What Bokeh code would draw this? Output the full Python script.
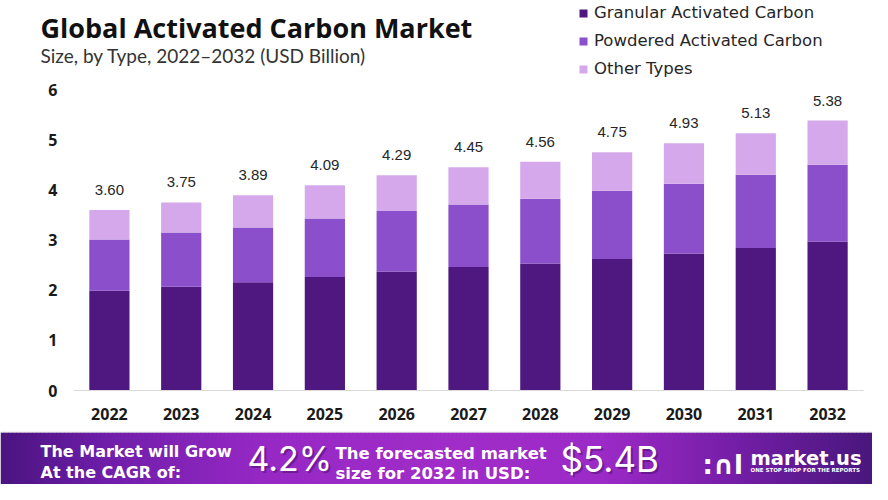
from bokeh.plotting import figure
from bokeh.layouts import column
from bokeh.models import (ColumnDataSource, LabelSet, Label, Legend, LegendItem,
                          FactorRange, Range1d)
from bokeh.embed import file_html
from bokeh.resources import INLINE
from bokeh.core.properties import value

# ---------------- data ----------------
years = ["2022", "2023", "2024", "2025", "2026", "2027", "2028", "2029", "2030", "2031", "2032"]
granular = [1.99, 2.07, 2.16, 2.26, 2.37, 2.46, 2.53, 2.62, 2.73, 2.84, 2.97]
powdered = [1.02, 1.08, 1.09, 1.17, 1.21, 1.25, 1.29, 1.36, 1.39, 1.46, 1.53]
other = [0.59, 0.60, 0.64, 0.66, 0.71, 0.74, 0.74, 0.77, 0.81, 0.83, 0.88]
totals = [3.60, 3.75, 3.89, 4.09, 4.29, 4.45, 4.56, 4.75, 4.93, 5.13, 5.38]
series_names = ["Granular Activated Carbon", "Powdered Activated Carbon", "Other Types"]
y_ticks = [0, 1, 2, 3, 4, 5, 6]
title_text = "Global Activated Carbon Market"
subtitle_text = "Size, by Type, 2022\u20132032 (USD Billion)"
cagr_text = "4.2%"
forecast_text = "$5.4B"

colors = ["#4f1780", "#8b4fcc", "#d4a8eb"]

W = 872
HDR_H = 80
CH_H = 351
BAN_TOP = 431
BAN_H = 53


def blank(height, y0):
    f = figure(width=W, height=height, x_range=Range1d(0, W), y_range=Range1d(y0 + height, y0),
               output_backend="svg", toolbar_location=None,
               min_border_left=0, min_border_right=0, min_border_top=0, min_border_bottom=0,
               x_axis_location=None, y_axis_location=None, outline_line_color=None,
               background_fill_color="white", border_fill_color="white")
    f.grid.visible = False
    return f


def add_label(f, text, x, base, size, color="white", font="DejaVu Sans", style="bold", alpha=1.0):
    # 'base' is the wanted baseline; the label is anchored at its middle
    f.add_layout(Label(x=x, y=base - 0.35 * size, text=text, text_font=font,
                       text_font_size="%.1fpx" % size, text_font_style=style,
                       text_color=color, text_align="left", text_baseline="middle",
                       text_alpha=alpha))


# ---------------- header: title, subtitle, legend ----------------
hdr = blank(HDR_H, 0)
add_label(hdr, title_text, 40, 36, 27, color="#111111", font="Open Sans", style="bold")
add_label(hdr, subtitle_text, 40, 61.5, 19, color="#333333", font="Lato", style="normal")

# swatch renderers for the legend, parked outside the visible range
dummies = [hdr.quad(left=[-50], right=[-40], top=[-50], bottom=[-40], fill_color=c, line_color=None)
           for c in colors]
legend = Legend(items=[LegendItem(label=n, renderers=[r]) for n, r in zip(series_names, dummies)],
                location=(578, 1.5), orientation="vertical",
                glyph_width=10, glyph_height=10, label_height=20, spacing=8,
                label_standoff=6, padding=0, margin=0,
                border_line_color=None, background_fill_alpha=0,
                label_text_font="DejaVu Sans", label_text_font_size="16.5px",
                label_text_color="#262626")
hdr.add_layout(legend, "center")

# ---------------- chart ----------------
src = ColumnDataSource(dict(
    years=years, granular=granular, powdered=powdered, other=other,
    totals=totals, tlabel=["%.2f" % t for t in totals],
))

p = figure(x_range=FactorRange(*years, range_padding=0), y_range=Range1d(0, 6),
           width=W, height=CH_H, output_backend="svg", toolbar_location=None,
           min_border_left=73, min_border_right=9, min_border_top=9, min_border_bottom=41,
           outline_line_color=None, background_fill_color="white", border_fill_color="white")
p.xgrid.visible = False
p.ygrid.visible = False

p.vbar_stack(["granular", "powdered", "other"], x="years", width=0.56,
             color=colors, line_color=None, source=src)

labels = LabelSet(x="years", y="totals", text="tlabel", source=src, y_offset=15,
                  text_align="center", text_baseline="alphabetic",
                  text_font=value("Liberation Sans"), text_font_size=value("15px"),
                  text_color=value("#262626"))
p.add_layout(labels)

p.yaxis.ticker = y_ticks
p.yaxis.axis_line_color = None
p.yaxis.major_tick_line_color = None
p.yaxis.minor_tick_line_color = None
p.yaxis.major_tick_out = 0
p.yaxis.major_tick_in = 0
p.yaxis.major_label_standoff = 16
p.yaxis.major_label_text_font = "Open Sans"
p.yaxis.major_label_text_font_style = "bold"
p.yaxis.major_label_text_font_size = "16px"
p.yaxis.major_label_text_color = "#1a1a1a"

p.xaxis.axis_line_color = "#d9d9d9"
p.xaxis.axis_line_width = 1
p.xaxis.major_tick_line_color = None
p.xaxis.minor_tick_line_color = None
p.xaxis.major_tick_out = 0
p.xaxis.major_tick_in = 0
p.xaxis.major_label_standoff = 17
p.xaxis.major_label_text_font = "Open Sans"
p.xaxis.major_label_text_font_style = "bold"
p.xaxis.major_label_text_font_size = "16px"
p.xaxis.major_label_text_color = "#1a1a1a"

# ---------------- banner ----------------
ban = blank(BAN_H, BAN_TOP)

stops = [(0, (74, 20, 128)), (110, (112, 30, 170)), (260, (150, 40, 196)),
         (450, (160, 45, 200)), (600, (156, 42, 198)), (730, (118, 30, 168)), (880, (70, 22, 122))]


def grad(x):
    for (x0, c0), (x1, c1) in zip(stops[:-1], stops[1:]):
        if x0 <= x <= x1:
            t = (x - x0) / (x1 - x0)
            return "#%02x%02x%02x" % tuple(int(round(a + (b - a) * t)) for a, b in zip(c0, c1))
    return "#%02x%02x%02x" % stops[-1][1]


step = 4
lefts = list(range(0, W, step))
ban.quad(left=lefts, right=[l + step + 0.5 for l in lefts],
         top=[BAN_TOP + 1] * len(lefts), bottom=[BAN_TOP + BAN_H] * len(lefts),
         fill_color=[grad(l + step / 2) for l in lefts], line_color=None)
ban.quad(left=[0], right=[W], top=[BAN_TOP], bottom=[BAN_TOP + 1],
         fill_color="#cfcfcf", line_color=None)

add_label(ban, "The Market will Grow", 40, 457, 16)
add_label(ban, "At the CAGR of:", 40, 478, 16)
add_label(ban, cagr_text, 249, 471.5, 34, color="#3a0a5a", font="Inter", style="normal", alpha=0.45)
add_label(ban, cagr_text, 247, 469.5, 34, font="Inter", style="normal")
add_label(ban, "The forecasted market", 335, 459, 16.5)
add_label(ban, "size for 2032 in USD:", 335, 479, 16.5)
add_label(ban, forecast_text, 562, 473, 35, color="#3a0a5a", font="Inter", style="normal", alpha=0.45)
add_label(ban, forecast_text, 560, 471, 35, font="Inter", style="normal")
add_label(ban, ":\u2229l", 702, 474, 26)
add_label(ban, "market.us", 750, 465, 19.5)
add_label(ban, "ONE STOP SHOP FOR THE REPORTS", 750, 471, 5.5)

layout = column(column(hdr), p, column(ban), spacing=0)
open("out.html", "w").write(file_html(layout, INLINE))
